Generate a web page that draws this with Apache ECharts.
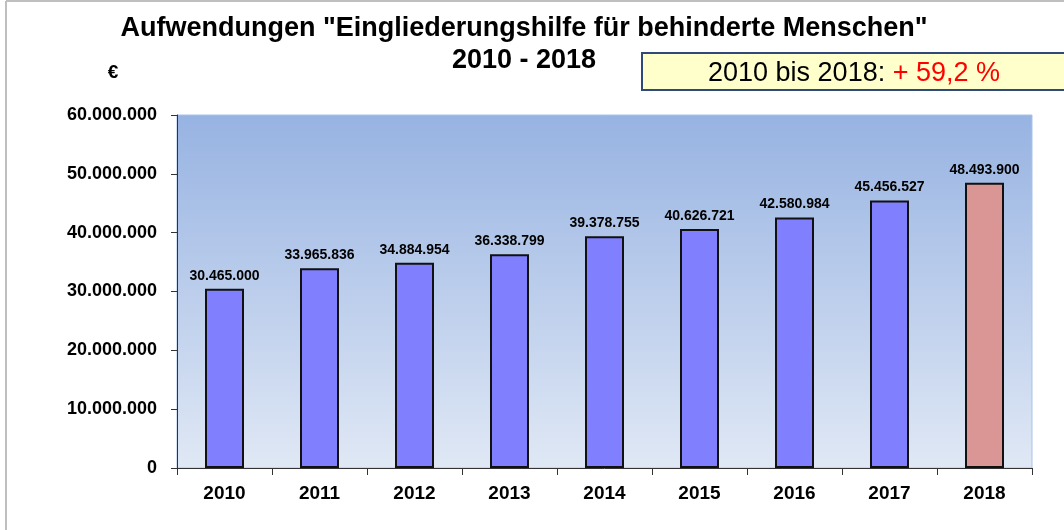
<!DOCTYPE html>
<html>
<head>
<meta charset="utf-8">
<script src="https://cdn.jsdelivr.net/npm/echarts@6/dist/echarts.min.js"></script>
<style>
  html, body { margin: 0; padding: 0; background: #fff; }
  #chart { width: 1064px; height: 530px; }
</style>
</head>
<body>
<div id="chart"></div>
<script>
// Jahre und Aufwendungen in Euro
var jahre = ['2010', '2011', '2012', '2013', '2014', '2015', '2016', '2017', '2018'];
var aufwendungen = [30465000, 33965836, 34884954, 36338799, 39378755, 40626721, 42580984, 45456527, 48493900];
var yTicks = [0, 10000000, 20000000, 30000000, 40000000, 50000000, 60000000];

function fmt(v) {
    return String(v).replace(/\B(?=(\d{3})+(?!\d))/g, '.');
}

var chart = echarts.init(document.getElementById('chart'));

var barData = aufwendungen.map(function (v, i) {
    return {
        value: v,
        itemStyle: { color: i === jahre.length - 1 ? '#D99694' : '#8080FF' }
    };
});

var option = {
    animation: false,
    backgroundColor: '#ffffff',
    title: {
        text: 'Aufwendungen "Eingliederungshilfe für behinderte Menschen"\n2010 - 2018',
        left: 519,
        textAlign: 'center',
        top: 8,
        textStyle: {
            fontFamily: 'Liberation Sans, Arial',
            fontWeight: 'bold',
            fontSize: 27,
            lineHeight: 32,
            color: '#000'
        }
    },
    graphic: [
        // Rahmen
        { type: 'line', shape: { x1: 6, y1: 1, x2: 6, y2: 530 }, style: { stroke: '#bfbfbf', lineWidth: 2 } },
        { type: 'line', shape: { x1: 6, y1: 1, x2: 1064, y2: 1 }, style: { stroke: '#bfbfbf', lineWidth: 2 } },
        // Kasten mit Veränderung
        {
            type: 'rect', shape: { x: 642, y: 53, width: 430, height: 37 },
            style: { fill: '#FFFFCC', stroke: '#2F4A7A', lineWidth: 2 }
        },
        {
            type: 'text', x: 854, y: 74,
            style: {
                text: '{a|2010 bis 2018: }{b|+ 59,2 %}',
                align: 'center',
                verticalAlign: 'middle',
                rich: {
                    a: { fontSize: 27, fontFamily: 'Liberation Sans, Arial', fill: '#000' },
                    b: { fontSize: 27, fontFamily: 'Liberation Sans, Arial', fill: '#FF0000' }
                }
            }
        },
        {
            type: 'text', x: 113, y: 73,
            style: {
                text: '€', fontSize: 19, fontWeight: 'bold', fontFamily: 'Liberation Sans, Arial',
                fill: '#000', align: 'center', verticalAlign: 'middle'
            }
        }
    ],
    grid: { left: 177, right: 32, top: 115, bottom: 62 },
    xAxis: {
        type: 'category',
        data: jahre,
        axisLine: { lineStyle: { color: '#333', width: 1 } },
        axisTick: { show: true, length: 7, lineStyle: { color: '#333' } },
        axisLabel: {
            color: '#000', fontWeight: 'bold', fontSize: 19,
            fontFamily: 'Liberation Sans, Arial', margin: 16
        }
    },
    yAxis: {
        type: 'value',
        min: yTicks[0],
        max: yTicks[yTicks.length - 1],
        interval: 10000000,
        splitLine: { show: false },
        splitArea: { show: false },
        axisLine: { show: true, lineStyle: { color: '#333' } },
        axisTick: { show: true, length: 6, lineStyle: { color: '#333' } },
        axisLabel: {
            color: '#000', fontWeight: 'bold', fontSize: 18,
            fontFamily: 'Liberation Sans, Arial', margin: 20,
            formatter: function (v) { return fmt(v); }
        }
    },
    series: [
        {
            type: 'bar',
            data: barData,
            barWidth: 39,
            itemStyle: { borderColor: '#111', borderWidth: 2 },
            label: {
                show: true,
                position: 'top',
                distance: 6,
                color: '#000',
                fontWeight: 'bold',
                fontSize: 14,
                fontFamily: 'Liberation Sans, Arial',
                formatter: function (p) { return fmt(p.value); }
            }
        }
    ]
};

chart.setOption(option);

// Verlauf hinter der Zeichenfläche
var gr = chart.getModel().getComponent('grid').coordinateSystem.getRect();
chart.setOption({
    graphic: option.graphic.concat([{
        type: 'rect', z: -10,
        shape: { x: gr.x, y: gr.y, width: gr.width, height: gr.height },
        style: {
            fill: new echarts.graphic.LinearGradient(0, 0, 0, 1, [
                { offset: 0, color: '#97B3E2' },
                { offset: 1, color: '#E0E8F5' }
            ]),
            stroke: '#A9C1E8', lineWidth: 1
        }
    }])
});
</script>
</body>
</html>
